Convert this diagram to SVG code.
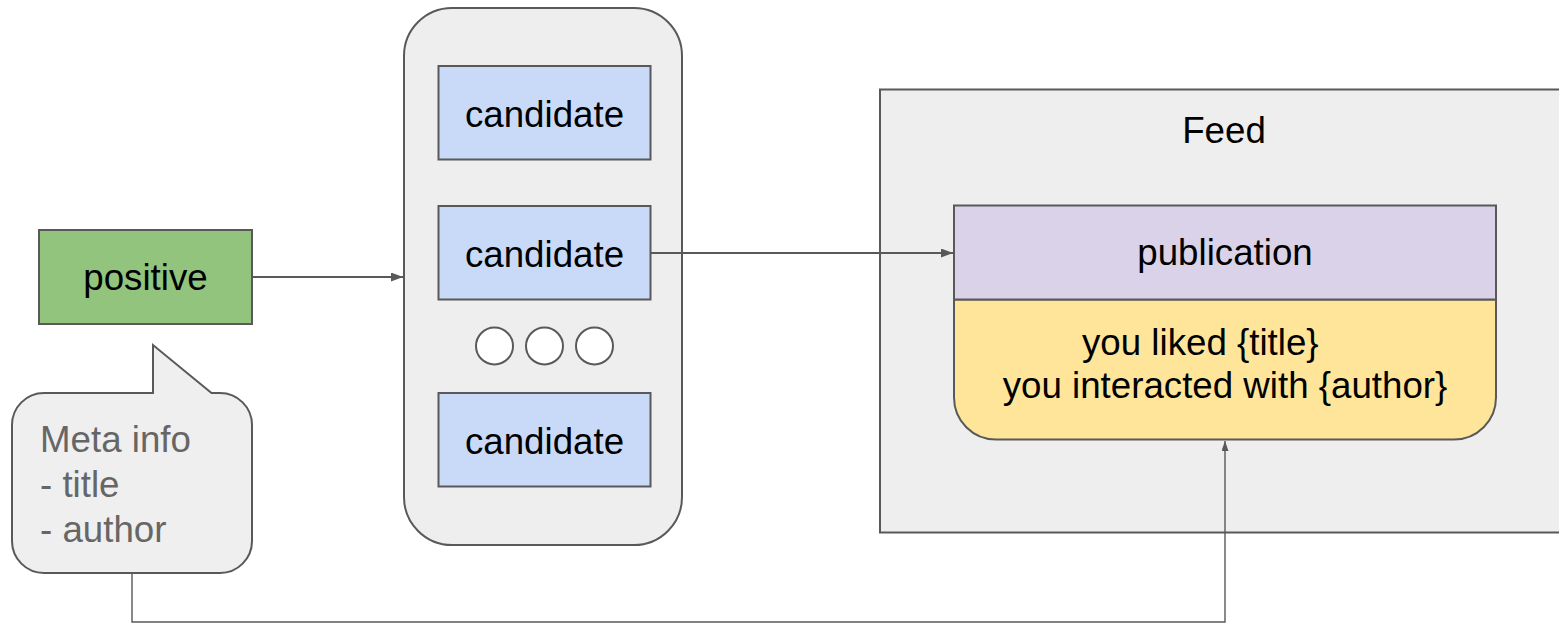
<svg xmlns="http://www.w3.org/2000/svg" width="1559" height="626" viewBox="0 0 1559 626">
  <defs>
    <style>
      .txt { font-family: "Liberation Sans", Arial, sans-serif; font-size: 36.7px; fill: #000000; }
      .muted { fill: #666666; }
      .box { stroke: #595959; stroke-width: 2; }
      .link { fill: none; stroke: #595959; stroke-width: 2; }
      .link-thin { fill: none; stroke: #595959; stroke-width: 1.4; }
    </style>
    <marker id="arrow" viewBox="0 0 12 9" refX="12" refY="4.5" markerWidth="12" markerHeight="9" markerUnits="userSpaceOnUse" orient="auto">
      <path d="M0,0 L12,4.5 L0,9 Z" fill="#595959"/>
    </marker>
    <marker id="arrow-thin" viewBox="0 0 10 7" refX="10" refY="3.5" markerWidth="10" markerHeight="7" markerUnits="userSpaceOnUse" orient="auto">
      <path d="M0,0 L10,3.5 L0,7 Z" fill="#595959"/>
    </marker>
  </defs>

  <rect width="1559" height="626" fill="#ffffff"/>

  <!-- Feed panel (runs past the right edge) -->
  <g id="feed">
    <rect class="box" x="880" y="89.5" width="720" height="443" fill="#eeeeee"/>
    <text class="txt" x="1224" y="142.5" text-anchor="middle">Feed</text>
  </g>

  <!-- Publication card: title band + reason band -->
  <g id="publication">
    <path class="box" d="M954,299.5 L1496,299.5 L1496,397.5 A42,42 0 0 1 1454,439.5 L996,439.5 A42,42 0 0 1 954,397.5 Z" fill="#ffe599"/>
    <rect class="box" x="954" y="205.5" width="542" height="94" fill="#d9d2e9"/>
    <text class="txt" x="1225" y="265" text-anchor="middle">publication</text>
    <text class="txt" x="1082" y="355">you liked {title}</text>
    <text class="txt" x="1225" y="398" text-anchor="middle">you interacted with {author}</text>
  </g>

  <!-- Candidate list -->
  <g id="candidates">
    <rect class="box" x="404" y="8" width="278" height="537" rx="48" ry="48" fill="#eeeeee"/>
  </g>
  <g id="candidate-1">
    <rect class="box" x="438.5" y="66" width="212" height="93.5" fill="#c9daf8"/>
    <text class="txt" x="544.5" y="127" text-anchor="middle">candidate</text>
  </g>
  <g id="candidate-2">
    <rect class="box" x="438.5" y="206" width="212" height="93.5" fill="#c9daf8"/>
    <text class="txt" x="544.5" y="267" text-anchor="middle">candidate</text>
  </g>
  <g id="ellipsis">
    <circle class="box" cx="494.5" cy="346" r="18.5" fill="#ffffff"/>
    <circle class="box" cx="544.5" cy="346" r="18.5" fill="#ffffff"/>
    <circle class="box" cx="594.5" cy="346" r="18.5" fill="#ffffff"/>
  </g>
  <g id="candidate-3">
    <rect class="box" x="438.5" y="393" width="212" height="93.5" fill="#c9daf8"/>
    <text class="txt" x="544.5" y="454" text-anchor="middle">candidate</text>
  </g>

  <!-- Positive signal -->
  <g id="positive">
    <rect class="box" x="39" y="230" width="213" height="94" fill="#93c47d"/>
    <text class="txt" x="145.5" y="290" text-anchor="middle">positive</text>
  </g>

  <!-- Meta info callout -->
  <g id="meta-info">
    <path class="box" d="M44,393 L153,393 L153,345 L211.5,393 L220,393 A32,32 0 0 1 252,425 L252,541 A32,32 0 0 1 220,573 L44,573 A32,32 0 0 1 12,541 L12,425 A32,32 0 0 1 44,393 Z" fill="#efefef"/>
    <text class="txt muted" x="40" y="452">Meta info</text>
    <text class="txt muted" x="40" y="497">- title</text>
    <text class="txt muted" x="40" y="542">- author</text>
  </g>

  <!-- Connectors -->
  <g id="connectors">
    <path class="link" d="M252,277 L403,277" marker-end="url(#arrow)"/>
    <path class="link" d="M650.5,253 L953,253" marker-end="url(#arrow)"/>
    <path class="link-thin" d="M132,573 L132,622 L1225,622 L1225,441" marker-end="url(#arrow-thin)"/>
  </g>
</svg>
